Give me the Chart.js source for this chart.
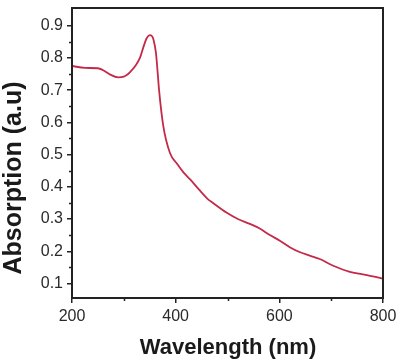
<!DOCTYPE html>
<html>
<head>
<meta charset="utf-8">
<script src="https://cdn.jsdelivr.net/npm/chart.js@4/dist/chart.umd.min.js"></script>
<style>
    html, body { margin: 0; padding: 0; background: #fff; }
    #wrap { width: 400px; height: 363px; position: relative; }
</style>
</head>
<body>
<div id="wrap"><canvas id="chartSpectrum"></canvas></div>
<script>
    // wavelength (nm) and absorbance
    const wavelengths = [200, 225, 250, 260, 273, 289, 300, 305, 312, 322, 331, 338, 344, 350, 354, 357, 362, 365, 368, 376, 389, 402, 415, 428, 447, 462, 472, 498, 520, 543, 563, 580, 601, 621, 640, 660, 678, 704, 736, 769, 800]
    const absorbance = [0.775, 0.769, 0.768, 0.762, 0.749, 0.740, 0.742, 0.746, 0.756, 0.775, 0.800, 0.835, 0.861, 0.871, 0.868, 0.858, 0.815, 0.760, 0.700, 0.590, 0.505, 0.473, 0.445, 0.423, 0.388, 0.362, 0.350, 0.320, 0.300, 0.285, 0.270, 0.252, 0.233, 0.212, 0.197, 0.186, 0.176, 0.155, 0.136, 0.126, 0.115]

    const xTicks = [200, 400, 600, 800]
    const xMinorTicks = [300, 500, 700]
    const yTicks = [0.1, 0.2, 0.3, 0.4, 0.5, 0.6, 0.7, 0.8, 0.9]
    const yMinorTicks = [0.15, 0.25, 0.35, 0.45, 0.55, 0.65, 0.75, 0.85]

    const xTitle = 'Wavelength (nm)'
    const yTitle = 'Absorption (a.u)'

    const axisColor = '#222'
    const tickFont = { family: 'Liberation Sans, Arial, sans-serif', size: 16 }

    /*
    * frame, minor ticks and axis titles
    */
    const framePlugin = {
        id: 'frame',
        afterDraw(chart) {
            const ctx = chart.ctx
            const a = chart.chartArea
            const sx = chart.scales.x
            const sy = chart.scales.y

            ctx.save()
            ctx.strokeStyle = axisColor
            ctx.lineWidth = 2
            ctx.strokeRect(a.left, a.top, a.right - a.left, a.bottom - a.top)

            ctx.lineWidth = 1.5
            ctx.beginPath()
            xMinorTicks.forEach((v) => {
                let px = Math.round(sx.getPixelForValue(v)) + 0.5
                ctx.moveTo(px, a.bottom)
                ctx.lineTo(px, a.bottom + 3)
            })
            yMinorTicks.forEach((v) => {
                let py = Math.round(sy.getPixelForValue(v)) + 0.5
                ctx.moveTo(a.left, py)
                ctx.lineTo(a.left - 3, py)
            })
            ctx.stroke()

            ctx.fillStyle = '#1a1a1a'
            ctx.textAlign = 'center'
            ctx.textBaseline = 'middle'
            ctx.font = 'bold 22px Liberation Sans, Arial, sans-serif'
            ctx.fillText(xTitle, 228, 348)

            ctx.translate(14, 178)
            ctx.rotate(-Math.PI / 2)
            ctx.font = 'bold 25px Liberation Sans, Arial, sans-serif'
            ctx.fillText(yTitle, 0, 0)
            ctx.restore()
        }
    }

    new Chart(document.getElementById('chartSpectrum').getContext('2d'), {
        type: 'line',
        data: {
            datasets: [{
                data: wavelengths.map((w, i) => ({ x: w, y: absorbance[i] })),
                borderColor: '#c42a48',
                borderWidth: 1.8,
                pointRadius: 0,
                tension: 0.4,
                cubicInterpolationMode: 'monotone',
                fill: false
            }]
        },
        options: {
            responsive: true,
            maintainAspectRatio: false,
            animation: false,
            layout: { padding: { top: 8, right: 17, left: 0, bottom: 0 } },
            plugins: {
                legend: { display: false },
                tooltip: { enabled: false }
            },
            scales: {
                x: {
                    type: 'linear',
                    min: 200,
                    max: 800,
                    afterBuildTicks: (scale) => { scale.ticks = xTicks.map(v => ({ value: v })) },
                    afterFit: (scale) => {
                        scale.height = 65
                        scale.paddingLeft = 0
                        scale.paddingRight = 0
                    },
                    border: { display: true, color: axisColor, width: 2 },
                    grid: { drawOnChartArea: false, drawTicks: true, tickLength: 5, color: axisColor, lineWidth: 1.5 },
                    ticks: { color: '#2a2a2a', font: tickFont, padding: 4, maxRotation: 0 }
                },
                y: {
                    type: 'linear',
                    min: 0.055,
                    max: 0.955,
                    afterBuildTicks: (scale) => { scale.ticks = yTicks.map(v => ({ value: v })) },
                    afterFit: (scale) => {
                        scale.width = 72
                        scale.paddingTop = 0
                        scale.paddingBottom = 0
                    },
                    border: { display: true, color: axisColor, width: 2 },
                    grid: { drawOnChartArea: false, drawTicks: true, tickLength: 5, color: axisColor, lineWidth: 1.5 },
                    ticks: {
                        color: '#2a2a2a',
                        font: tickFont,
                        padding: 4,
                        callback: (v) => v.toFixed(1)
                    }
                }
            }
        },
        plugins: [framePlugin]
    })
</script>
</body>
</html>
